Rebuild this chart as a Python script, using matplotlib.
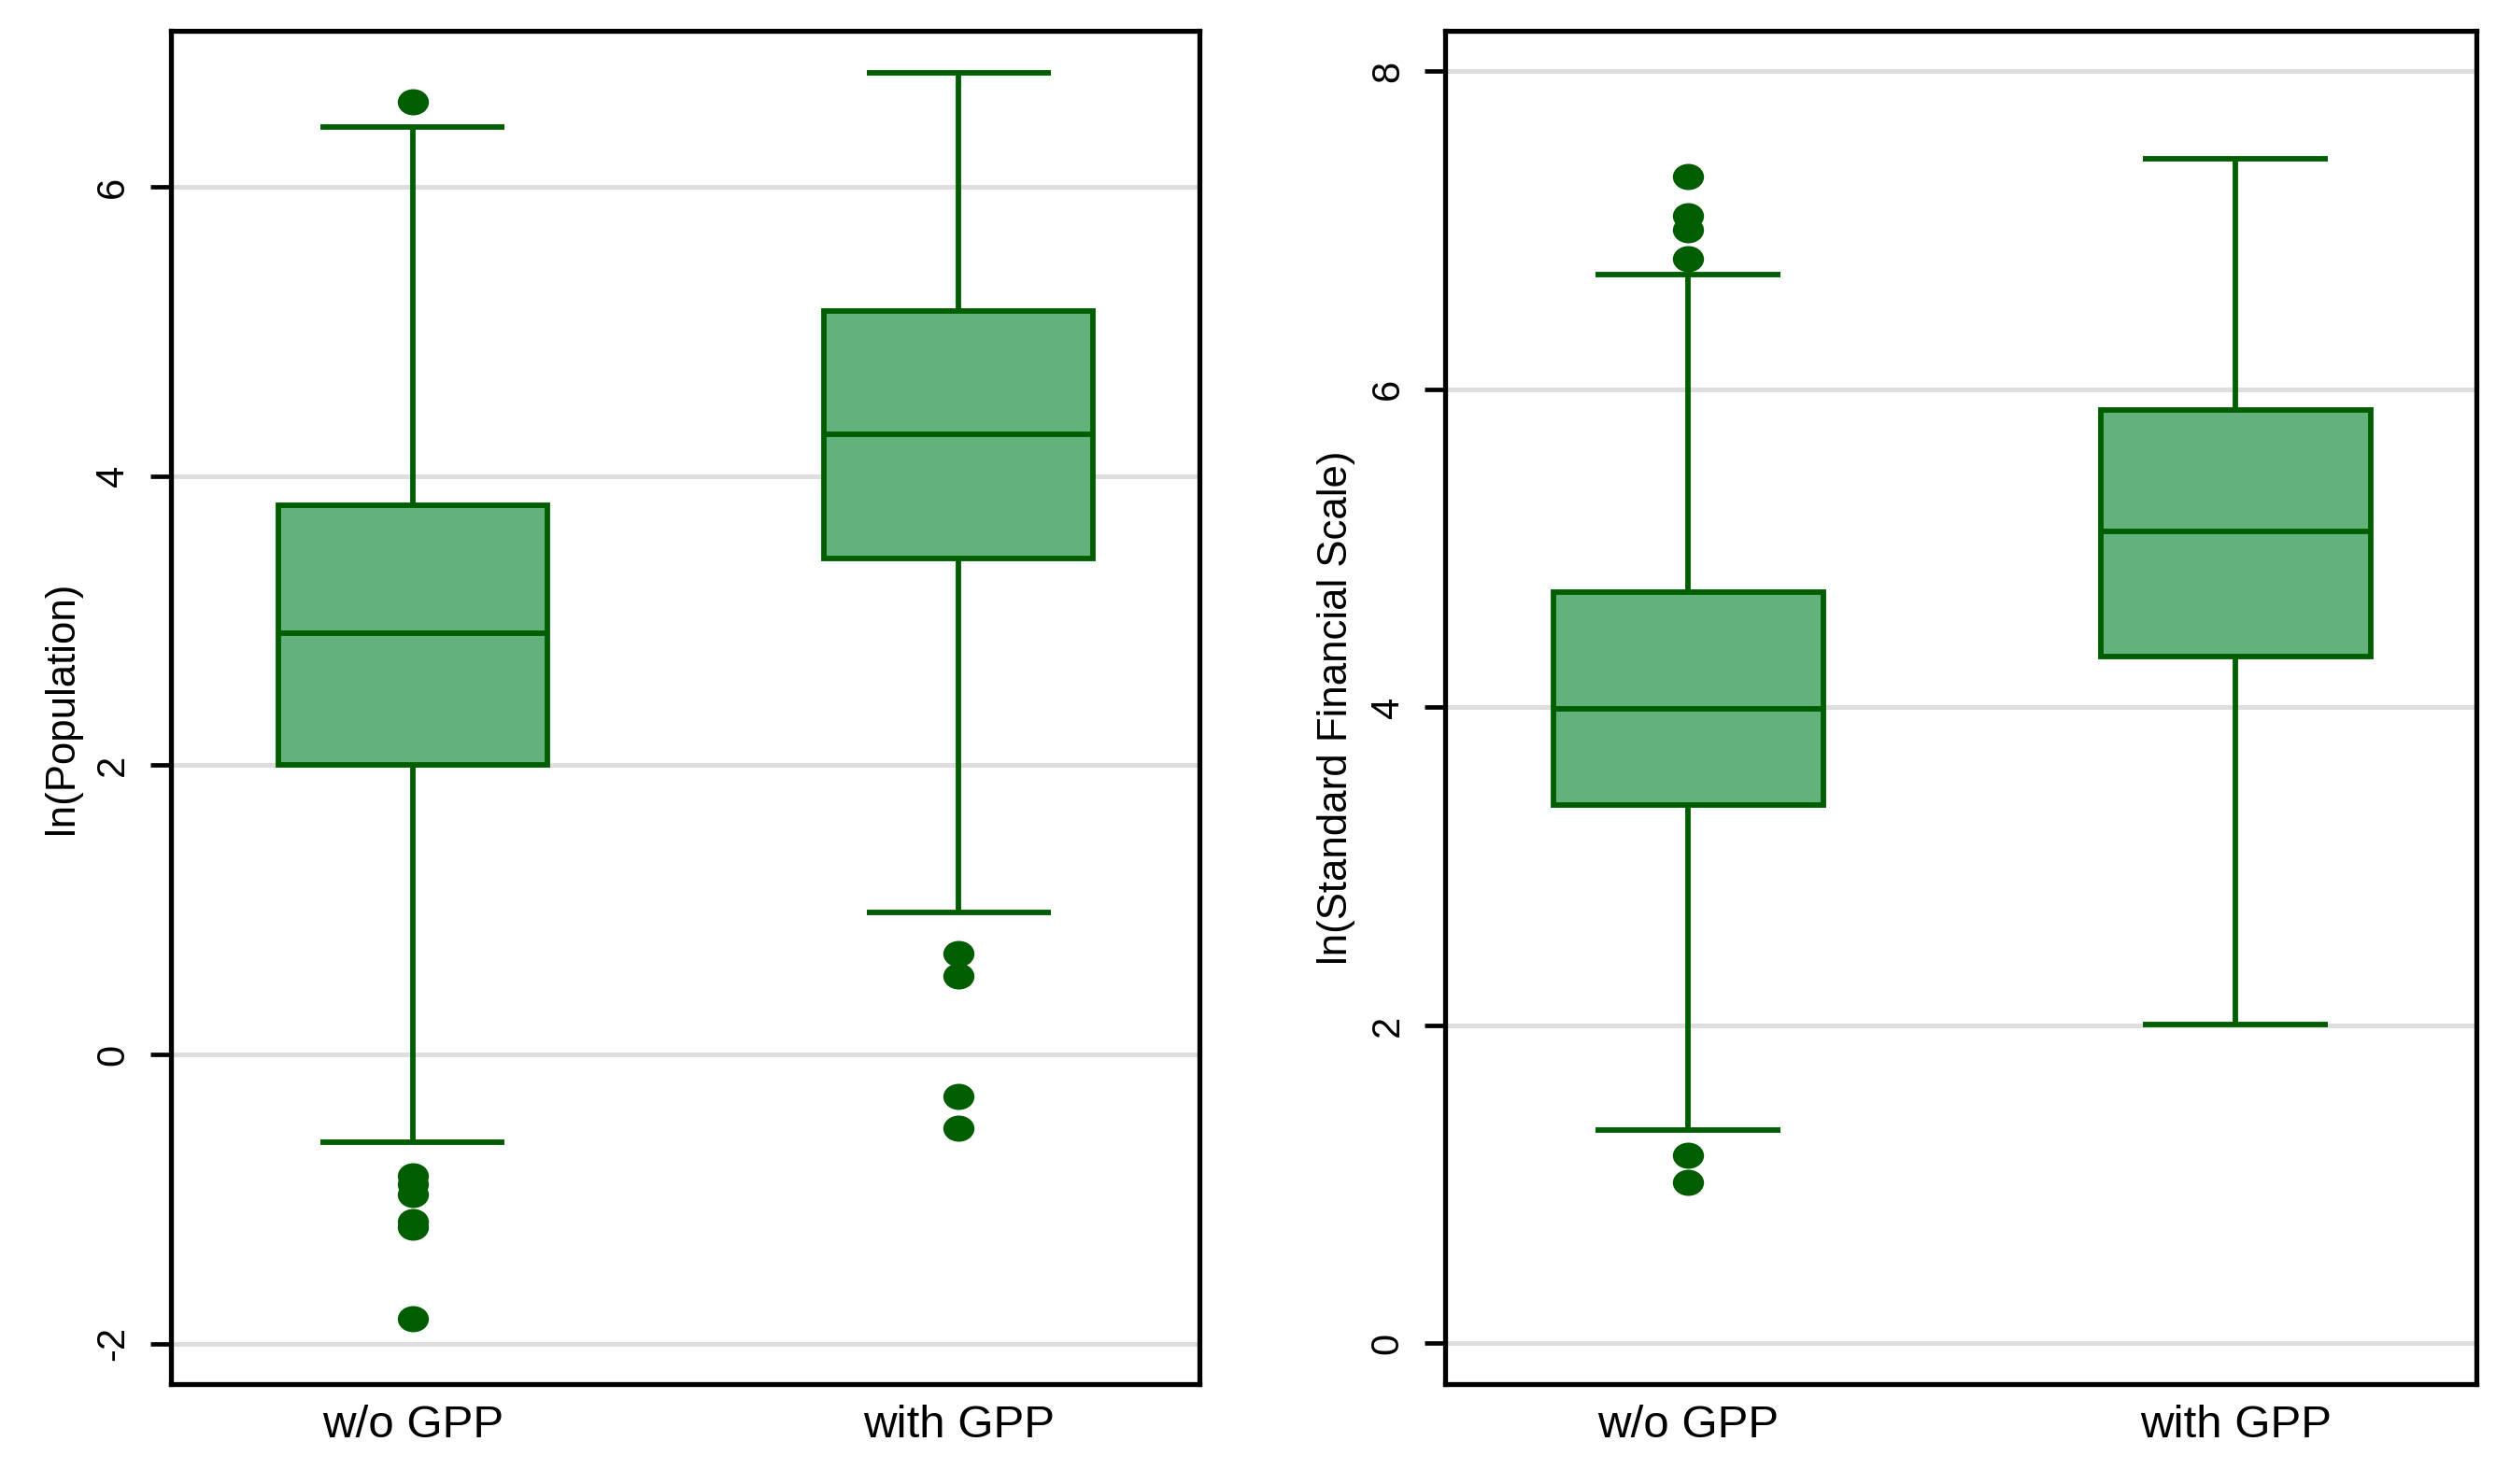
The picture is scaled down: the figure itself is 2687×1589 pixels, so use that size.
import matplotlib
matplotlib.use("Agg")
import matplotlib.pyplot as plt
from matplotlib.path import Path
from matplotlib.transforms import Affine2D
import numpy as np

plt.rcParams['font.family'] = ['Liberation Sans', 'DejaVu Sans']

# ---------------- data ----------------
groups = ["w/o GPP", "with GPP"]

# Panel 1: ln(Population)
pop_q1 = [2.00, 3.43]
pop_med = [2.91, 4.29]
pop_q3 = [3.80, 5.14]
pop_whislo = [-0.605, 0.98]
pop_whishi = [6.41, 6.79]
pop_fliers_wo = [6.59, -0.84, -0.90, -0.97, -1.155, -1.195, -1.83]
pop_fliers_with = [0.70, 0.54, -0.29, -0.51]

# Panel 2: ln(Standard Financial Scale)
fin_q1 = [3.385, 4.32]
fin_med = [3.99, 5.105]
fin_q3 = [4.725, 5.87]
fin_whislo = [1.34, 2.005]
fin_whishi = [6.72, 7.45]
fin_fliers_wo = [7.335, 7.09, 7.00, 6.82, 1.185, 1.01]
fin_fliers_with = []

pop_ticks = [-2, 0, 2, 4, 6]
fin_ticks = [0, 2, 4, 6, 8]
pop_ylabel = "ln(Population)"
fin_ylabel = "ln(Standard Financial Scale)"

# ---------------- style ----------------
EDGE = '#005e00'
FILL = '#63b17b'
GRID = '#dedede'
LW = 4.2

ell = Path.unit_circle().transformed(Affine2D().scale(1.0, 0.84))


def make_stats(q1, med, q3, lo, hi, fliers_list):
    out = []
    for i in range(len(q1)):
        out.append(dict(q1=q1[i], med=med[i], q3=q3[i], whislo=lo[i],
                        whishi=hi[i], fliers=np.array(fliers_list[i])))
    return out


fig = plt.figure(figsize=(26.87, 15.89), dpi=100)
fig.patch.set_facecolor('white')

ax1 = fig.add_axes([0.0681, 0.0675, 0.4096, 0.9117])
ax2 = fig.add_axes([0.5759, 0.0675, 0.4107, 0.9117])

panels = [
    (ax1, make_stats(pop_q1, pop_med, pop_q3, pop_whislo, pop_whishi,
                     [pop_fliers_wo, pop_fliers_with]),
     pop_ticks, pop_ylabel, (-2.278, 7.078)),
    (ax2, make_stats(fin_q1, fin_med, fin_q3, fin_whislo, fin_whishi,
                     [fin_fliers_wo, fin_fliers_with]),
     fin_ticks, fin_ylabel, (-0.254, 8.253)),
]

for ax, stats, ticks, ylabel, ylim in panels:
    ax.bxp(stats, positions=[1, 2], widths=0.493, capwidths=0.337,
           patch_artist=True,
           boxprops=dict(facecolor=FILL, edgecolor=EDGE, linewidth=LW),
           whiskerprops=dict(color=EDGE, linewidth=LW, solid_capstyle='butt'),
           capprops=dict(color=EDGE, linewidth=LW, solid_capstyle='butt'),
           medianprops=dict(color=EDGE, linewidth=LW, solid_capstyle='butt'),
           flierprops=dict(marker=ell, markersize=24, markerfacecolor=EDGE,
                           markeredgewidth=0, linestyle='none'),
           zorder=3)
    ax.set_xlim(0.557, 2.44)
    ax.set_ylim(*ylim)
    ax.set_yticks(ticks)
    ax.set_yticklabels([str(t) for t in ticks], rotation=90, va='center')
    ax.set_xticks([1, 2])
    ax.set_xticklabels(groups)
    for t in ax.get_yticks():
        ax.axhline(t, color=GRID, linewidth=3.6, zorder=1)
    ax.tick_params(axis='y', length=16, width=3.4, pad=14, labelsize=30,
                   color='black')
    ax.tick_params(axis='x', length=0, pad=16, labelsize=35.5)
    for s in ax.spines.values():
        s.set_linewidth(3.8)
        s.set_color('black')
        s.set_zorder(5)
    ax.set_ylabel(ylabel, fontsize=31.5)
    ax.yaxis.set_label_coords(-0.087, 0.5)

fig.savefig('out.png', dpi=100, facecolor='white')
